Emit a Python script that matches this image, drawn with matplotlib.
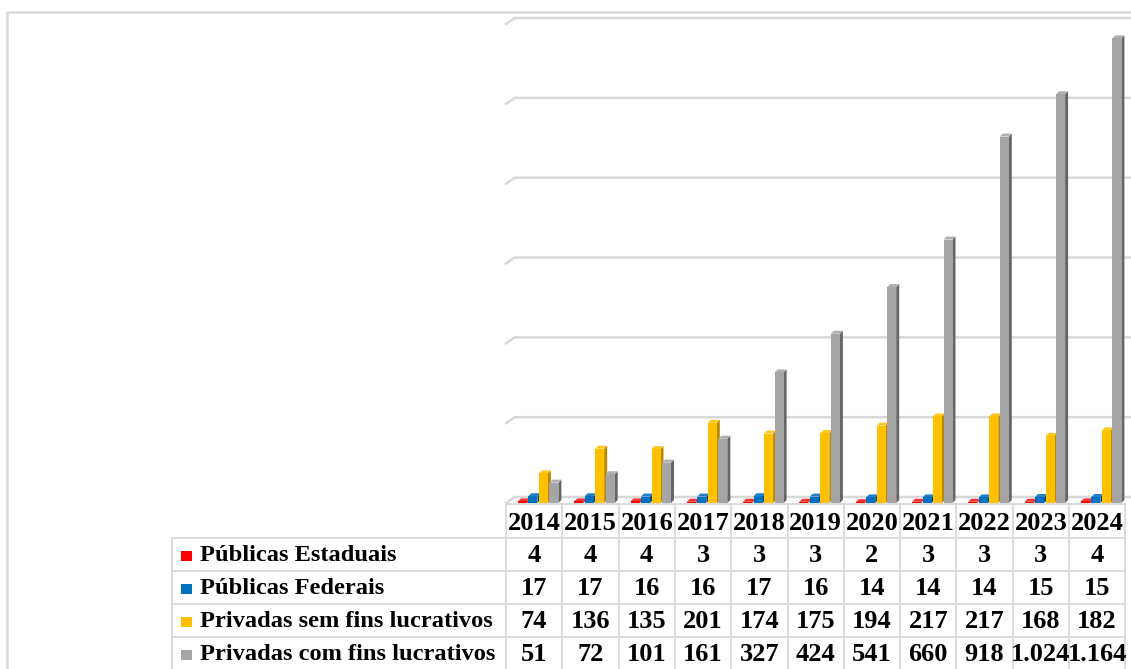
import matplotlib.pyplot as plt
from matplotlib.patches import Polygon, Rectangle

# data
years = ["2014", "2015", "2016", "2017", "2018", "2019", "2020", "2021", "2022", "2023", "2024"]
series_names = ["Públicas Estaduais", "Públicas Federais",
                "Privadas sem fins lucrativos", "Privadas com fins lucrativos"]
publicas_estaduais = [4, 4, 4, 3, 3, 3, 2, 3, 3, 3, 4]
publicas_federais = [17, 17, 16, 16, 17, 16, 14, 14, 14, 15, 15]
privadas_sem_fins = [74, 136, 135, 201, 174, 175, 194, 217, 217, 168, 182]
privadas_com_fins = [51, 72, 101, 161, 327, 424, 541, 660, 918, 1024, 1164]
series = [publicas_estaduais, publicas_federais, privadas_sem_fins, privadas_com_fins]

front_colors = ["#FF0000", "#0070C0", "#FFC000", "#A5A5A5"]
side_colors = ["#A80000", "#004A80", "#B88800", "#666666"]
top_colors = ["#FF3030", "#1F7FC8", "#FFC722", "#B0B0B0"]
grid_color = "#D9D9D9"

W, H = 1131, 669
fig = plt.figure(figsize=(W / 100, H / 100), dpi=100)
fig.patch.set_facecolor("white")

# overlay axes in pixel units for the frame and the data table
tax = fig.add_axes([0, 0, 1, 1])
tax.set_xlim(0, W)
tax.set_ylim(H, 0)
tax.axis("off")

# outer frame
tax.plot([7, 7, W], [H, 12, 12], color=grid_color, lw=1.8)

col_x0 = 506
col_w = 56.3
label_x0 = 172
row_tops = [538, 571, 604, 637, 670]
n = len(years)
col_x1 = col_x0 + n * col_w

# table lines
for y in row_tops[:-1]:
    tax.plot([label_x0, col_x1], [y, y], color=grid_color, lw=1.3)
tax.plot([col_x0, col_x1], [504, 504], color=grid_color, lw=1.3)
tax.plot([label_x0, label_x0], [row_tops[0], H], color=grid_color, lw=1.3)
for i in range(n + 1):
    x = col_x0 + i * col_w
    tax.plot([x, x], [504, H], color=grid_color, lw=1.3)

num_font = dict(family="Liberation Serif", fontweight="bold", fontsize=19, color="black")
lab_font = dict(family="Liberation Serif", fontweight="bold", fontsize=17.6, color="black")

# header years
for i, yr in enumerate(years):
    tax.text(col_x0 + (i + 0.5) * col_w, 523, yr, ha="center", va="center", **num_font)

# rows
for r, (name, vals) in enumerate(zip(series_names, series)):
    yc = (row_tops[r] + row_tops[r + 1]) / 2 + 1
    tax.add_patch(Rectangle((181, yc - 5), 11, 10, facecolor=front_colors[r], edgecolor="none"))
    tax.text(200, yc, name, ha="left", va="center", **lab_font)
    for i, v in enumerate(vals):
        txt = f"{v:,}".replace(",", ".")
        tax.text(col_x0 + (i + 0.5) * col_w, yc, txt, ha="center", va="center", **num_font)

# bar chart axes: 0 at y=503px, 1200 at y=24px
base_px = 503
top_px = 24
ax = fig.add_axes([col_x0 / W, 1 - base_px / H, (W - col_x0) / W, (base_px - top_px) / H])
ax.patch.set_visible(False)
xmax = -0.5 + (W - col_x0) / col_w
ax.set_xlim(-0.5, xmax)
ax.set_ylim(0, 1200)
ax.axis("off")

px_x = 1 / col_w
px_y = 1200 / (base_px - top_px)

# back wall gridlines with floor diagonal
gx = 9 * px_x
gy = 6 * px_y
for v in range(0, 1201, 200):
    ax.plot([-0.5, -0.5 + gx, xmax], [v, v + gy, v + gy], color=grid_color, lw=1.8,
            clip_on=False, zorder=1)

# 3D-like bars
pitch = 10.5 * px_x
bw = 9 * px_x
dx = 3 * px_x
dy = 3 * px_y
shift = 4 * px_x
z = 2
for i in range(n):
    for k, vals in enumerate(series):
        v = vals[i]
        x0 = i + (k - 1.5) * pitch + shift - bw / 2
        side = Polygon([(x0 + bw, 0), (x0 + bw + dx, dy), (x0 + bw + dx, v + dy), (x0 + bw, v)],
                       closed=True, facecolor=side_colors[k], edgecolor="none", zorder=z,
                       clip_on=False)
        top = Polygon([(x0, v), (x0 + dx, v + dy), (x0 + bw + dx, v + dy), (x0 + bw, v)],
                      closed=True, facecolor=top_colors[k], edgecolor="none", zorder=z,
                      clip_on=False)
        ax.add_patch(side)
        ax.add_patch(top)
        ax.bar(x0, v, width=bw, align="edge", color=front_colors[k], zorder=z + 0.5,
               clip_on=False)
        z += 1

fig.savefig("out.png", dpi=100)
